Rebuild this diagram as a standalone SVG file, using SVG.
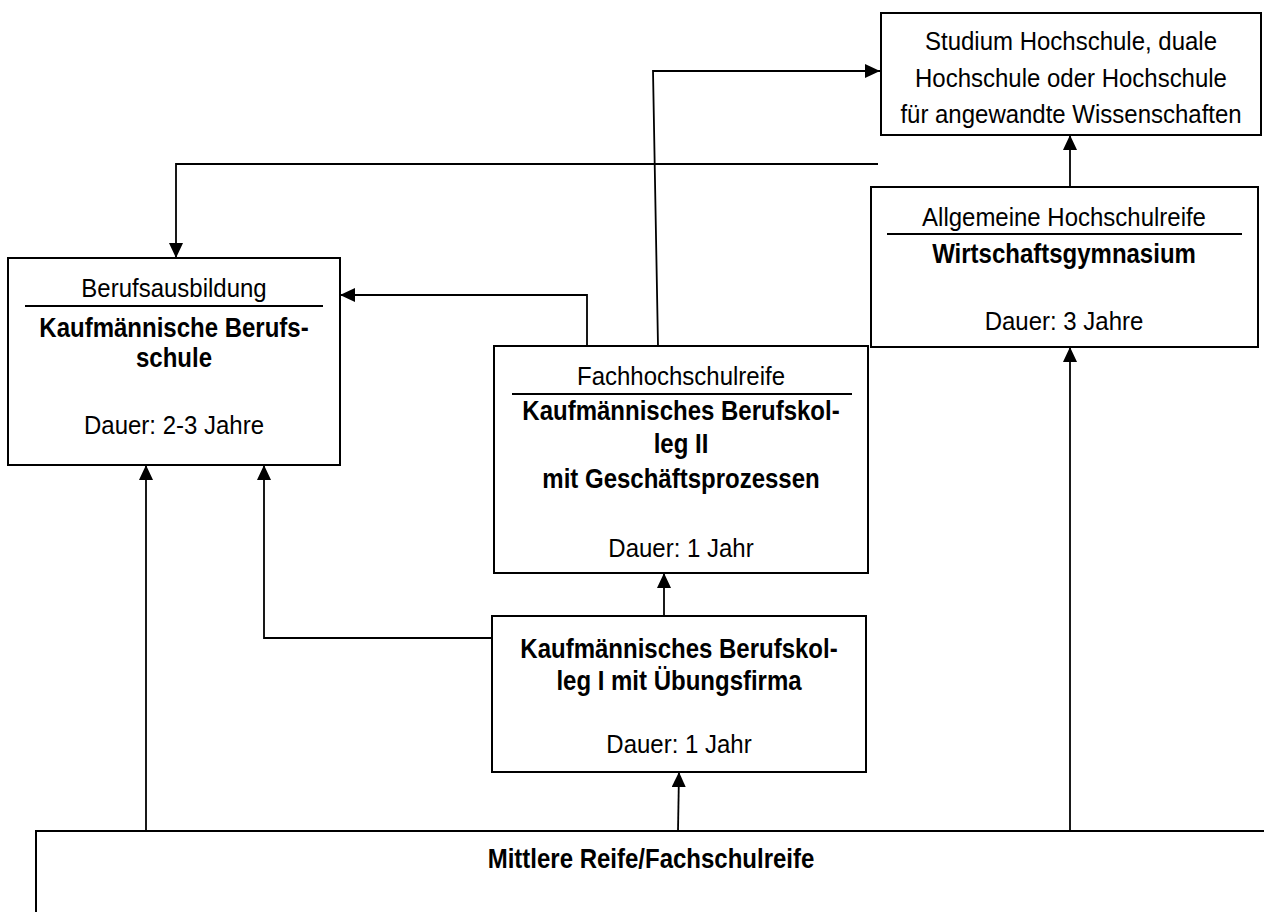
<svg xmlns="http://www.w3.org/2000/svg" width="1264" height="912" viewBox="0 0 1264 912">
<style>
.box{fill:#fff;stroke:#000;stroke-width:2}
.sep{stroke:#000;stroke-width:2}
.con{fill:none;stroke:#000;stroke-width:1.8}
text{font-family:"Liberation Sans",Arial,sans-serif;font-size:26px;fill:#000;text-anchor:middle}
.b{font-weight:bold;font-size:27px}
</style>
<defs>
<marker id="ah" markerUnits="userSpaceOnUse" markerWidth="16" markerHeight="14" refX="15" refY="7" orient="auto">
<path d="M0,0 L15,7 L0,14 Z" fill="#000"/>
</marker>
</defs>
<rect width="1264" height="912" fill="#fff"/>
<g id="connectors">
<path class="con" d="M146,831 V465" marker-end="url(#ah)"/>
<path class="con" d="M492,638 H264 V465" marker-end="url(#ah)"/>
<path class="con" d="M678,831 L679,772" marker-end="url(#ah)"/>
<path class="con" d="M664,616 V573" marker-end="url(#ah)"/>
<path class="con" d="M587,346 V295 H340" marker-end="url(#ah)"/>
<path class="con" d="M658,346 L653,71 H880" marker-end="url(#ah)"/>
<path class="con" d="M878,164 H176 V258" marker-end="url(#ah)"/>
<path class="con" d="M1070,831 V347" marker-end="url(#ah)"/>
<path class="con" d="M1070,187 V135" marker-end="url(#ah)"/>
</g>
<g id="studium">
<rect class="box" x="881" y="13" width="380" height="122"/>
<text transform="translate(1071 50) scale(0.923 1)">Studium Hochschule, duale</text>
<text transform="translate(1071 87) scale(0.923 1)">Hochschule oder Hochschule</text>
<text transform="translate(1071 123) scale(0.923 1)">für angewandte Wissenschaften</text>
</g>
<g id="wirtschaftsgymnasium">
<rect class="box" x="871" y="187" width="387" height="160"/>
<text transform="translate(1064 226) scale(0.923 1)">Allgemeine Hochschulreife</text>
<line class="sep" x1="887" y1="234" x2="1242" y2="234"/>
<text class="b" transform="translate(1064 263) scale(0.889 1)">Wirtschaftsgymnasium</text>
<text transform="translate(1064 330) scale(0.923 1)">Dauer: 3 Jahre</text>
</g>
<g id="berufsschule">
<rect class="box" x="8" y="258" width="332" height="207"/>
<text transform="translate(174 297) scale(0.923 1)">Berufsausbildung</text>
<line class="sep" x1="25" y1="306" x2="323" y2="306"/>
<text class="b" transform="translate(174 337) scale(0.889 1)">Kaufmännische Berufs-</text>
<text class="b" transform="translate(174 367) scale(0.889 1)">schule</text>
<text transform="translate(174 434) scale(0.923 1)">Dauer: 2-3 Jahre</text>
</g>
<g id="berufskolleg2">
<rect class="box" x="494" y="346" width="374" height="227"/>
<text transform="translate(681 385) scale(0.923 1)">Fachhochschulreife</text>
<line class="sep" x1="512" y1="394" x2="852" y2="394"/>
<text class="b" transform="translate(681 420) scale(0.889 1)">Kaufmännisches Berufskol-</text>
<text class="b" transform="translate(681 453) scale(0.889 1)">leg II</text>
<text class="b" transform="translate(681 488) scale(0.889 1)">mit Geschäftsprozessen</text>
<text transform="translate(681 557) scale(0.923 1)">Dauer: 1 Jahr</text>
</g>
<g id="berufskolleg1">
<rect class="box" x="492" y="616" width="374" height="156"/>
<text class="b" transform="translate(679 658) scale(0.889 1)">Kaufmännisches Berufskol-</text>
<text class="b" transform="translate(679 690) scale(0.889 1)">leg I mit Übungsfirma</text>
<text transform="translate(679 753) scale(0.923 1)">Dauer: 1 Jahr</text>
</g>
<g id="mittlere-reife">
<rect class="box" x="36" y="831" width="1240" height="100"/>
<text class="b" transform="translate(651 868) scale(0.889 1)">Mittlere Reife/Fachschulreife</text>
</g>
</svg>
